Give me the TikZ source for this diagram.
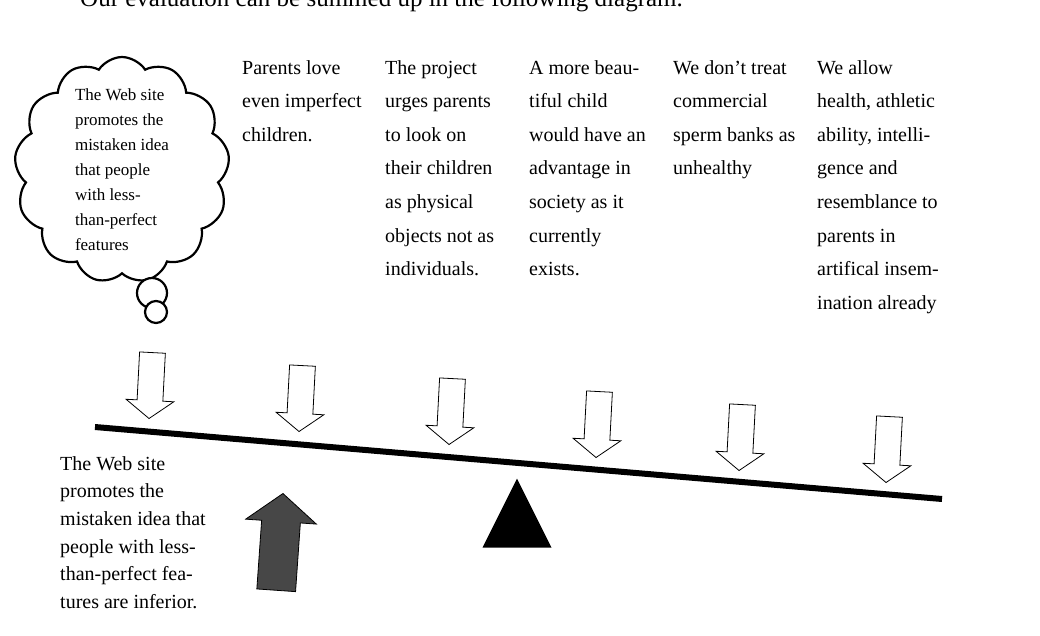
\documentclass[tikz,border=0pt]{standalone}
\usepackage{fontspec}
\setmainfont{Liberation Serif}
\usetikzlibrary{positioning,shapes.arrows,shapes.geometric,shapes.symbols}

\begin{document}
\begin{tikzpicture}[x=1pt,y=-1pt,
  every node/.style={inner sep=0pt},
  reason/.style={anchor=north west,align=left,font=\fontsize{20}{33.6}\selectfont},
  thought/.style={cloud,draw,line width=2.2pt,cloud puffs=13,cloud puff arc=115,
    minimum width=215pt,minimum height=226pt},
  bubble/.style={circle,draw,line width=2.2pt,fill=white},
  weight/.style={single arrow,draw,line width=0.8pt,minimum height=66pt,
    inner ysep=12.5pt,single arrow tip angle=106,single arrow head extend=11pt,
    rotate=-93,anchor=tip},
  push/.style={single arrow,draw,fill=black!72,line width=0.8pt,minimum height=97pt,
    inner ysep=19pt,single arrow tip angle=103,single arrow head extend=16pt,
    rotate=86,anchor=tip},
  beam/.style={line width=6pt}
]
\useasboundingbox (0,0) rectangle (1040,635);
\clip (0,0) rectangle (1040,635);

\node[anchor=base west,font=\fontsize{25}{30}\selectfont] (intro) at (80,6)
  {Our evaluation can be summed up in the following diagram.};

\node[thought] (idea) at (122,170) {};
\node[align=left,font=\fontsize{17}{25}\selectfont] (ideatext) at (idea.center)
  {The Web site\\promotes the\\mistaken idea\\that people\\with less-\\than-perfect\\features};
\node[bubble,minimum size=30pt] (puff1) at (152,293) {};
\node[bubble,minimum size=22pt] (puff2) at (156,312) {};

\node[reason] (c1) at (242,60) {Parents love\\even imperfect\\children.};
\node[reason] (c2) at (385,60) {The project\\urges parents\\to look on\\their children\\as physical\\objects not as\\individuals.};
\node[reason] (c3) at (529,60) {A more beau-\\tiful child\\would have an\\advantage in\\society as it\\currently\\exists.};
\node[reason] (c4) at (673,60) {We don’t treat\\commercial\\sperm banks as\\unhealthy};
\node[reason] (c5) at (817,60) {We allow\\health, athletic\\ability, intelli-\\gence and\\resemblance to\\parents in\\artifical insem-\\ination already};

\foreach \i/\x/\y in {1/149/419,2/299/432,3/449/445,4/596/458,5/739/471,6/886/483}
  \node[weight] (w\i) at (\x,\y) {};

\coordinate (lend) at (95,427);
\coordinate (rend) at (942,499);
\draw[beam] (lend) -- (rend);

\node[isosceles triangle,shape border rotate=90,isosceles triangle stretches,
  fill=black,minimum width=69pt,minimum height=69pt,anchor=apex] (pivot) at (517,478) {};

\node[push] (lift) at (283,493) {};

\node[reason,font=\fontsize{20}{27.7}\selectfont] (claim) at (60,456) {The Web site\\promotes the\\mistaken idea that\\people with less-\\than-perfect fea-\\tures are inferior.};
\end{tikzpicture}
\end{document}
